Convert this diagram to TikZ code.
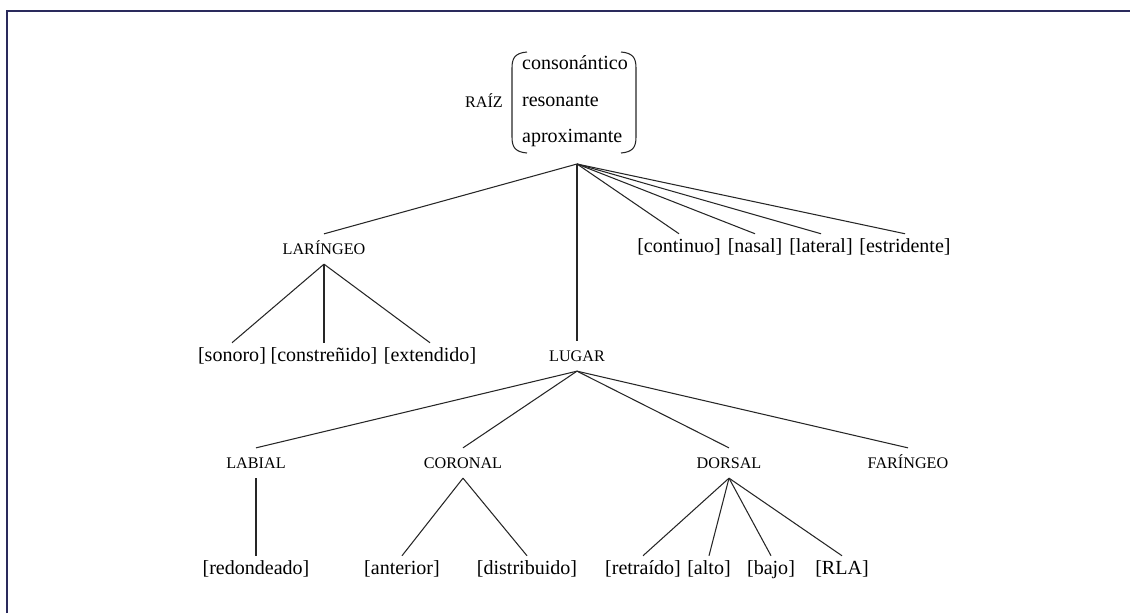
\documentclass[tikz,border=0pt]{standalone}
\usepackage{fontspec}
\setmainfont{Liberation Serif}
\definecolor{marco}{RGB}{42,42,92}
\begin{document}
\begin{tikzpicture}[x=0.02cm, y=-0.02cm,
		nodo/.style={font=\fontsize{9.2}{11}\selectfont, text height=0.66em, text depth=0pt, inner xsep=2pt, inner ysep=0.18cm},
		rasgo/.style={font=\fontsize{11.4}{13}\selectfont, text height=0.7em, text depth=0.2em, inner xsep=1pt, inner ysep=0.12cm},
		linea/.style={line width=0.6pt, draw=black!85}]
			\useasboundingbox (0,0) rectangle (1130,613);
			\draw[marco, line width=1.2pt] (7,613) -- (7,11) -- (1130,11);

			% raiz y sus rasgos
			\node[nodo] (raiz) at (484, 102) {RAÍZ};
			\node[rasgo, anchor=west] (cons) at (520, 65) {consonántico};
			\node[rasgo, anchor=west] (reso) at (520, 102) {resonante};
			\node[rasgo, anchor=west] (aprox) at (520, 138) {aproximante};
			\draw[linea] (527,52) .. controls (515,53) and (512,58) .. (512,68) -- (512,137) .. controls (512,147) and (515,152) .. (527,153);
			\draw[linea] (621,52) .. controls (633,53) and (636,58) .. (636,68) -- (636,137) .. controls (636,147) and (633,152) .. (621,153);
			\coordinate (pie) at (577, 164);

			\node[nodo] (laringeo) at (324, 249) {LARÍNGEO};
			\node[rasgo] (continuo) at (679, 248) {[continuo]};
			\node[rasgo] (nasal) at (755, 248) {[nasal]};
			\node[rasgo] (lateral) at (821, 248) {[lateral]};
			\node[rasgo] (estridente) at (905, 248) {[estridente]};

			\node[rasgo] (sonoro) at (232, 357) {[sonoro]};
			\node[rasgo] (constrenido) at (324, 357) {[constreñido]};
			\node[rasgo] (extendido) at (430, 357) {[extendido]};
			\node[nodo] (lugar) at (577, 356) {LUGAR};

			\node[nodo] (labial) at (256, 463) {LABIAL};
			\node[nodo] (coronal) at (463, 463) {CORONAL};
			\node[nodo] (dorsal) at (729, 463) {DORSAL};
			\node[nodo] (faringeo) at (908, 463) {FARÍNGEO};

			\node[rasgo] (redondeado) at (256, 570) {[redondeado]};
			\node[rasgo] (anterior) at (402, 570) {[anterior]};
			\node[rasgo] (distribuido) at (527, 570) {[distribuido]};
			\node[rasgo] (retraido) at (643, 570) {[retraído]};
			\node[rasgo] (alto) at (709, 570) {[alto]};
			\node[rasgo] (bajo) at (771, 570) {[bajo]};
			\node[rasgo] (rla) at (842, 570) {[RLA]};

			\draw[linea] (pie) -- (laringeo.north);
			\draw[linea] (pie) -- (lugar.north);
			\draw[linea] (pie) -- (continuo.north);
			\draw[linea] (pie) -- (nasal.north);
			\draw[linea] (pie) -- (lateral.north);
			\draw[linea] (pie) -- (estridente.north);

			\draw[linea] (laringeo.south) -- (sonoro.north);
			\draw[linea] (laringeo.south) -- (constrenido.north);
			\draw[linea] (laringeo.south) -- (extendido.north);

			\draw[linea] (lugar.south) -- (labial.north);
			\draw[linea] (lugar.south) -- (coronal.north);
			\draw[linea] (lugar.south) -- (dorsal.north);
			\draw[linea] (lugar.south) -- (faringeo.north);

			\draw[linea] (labial.south) -- (redondeado.north);
			\draw[linea] (coronal.south) -- (anterior.north);
			\draw[linea] (coronal.south) -- (distribuido.north);
			\draw[linea] (dorsal.south) -- (retraido.north);
			\draw[linea] (dorsal.south) -- (alto.north);
			\draw[linea] (dorsal.south) -- (bajo.north);
			\draw[linea] (dorsal.south) -- (rla.north);
		\end{tikzpicture}
\end{document}
